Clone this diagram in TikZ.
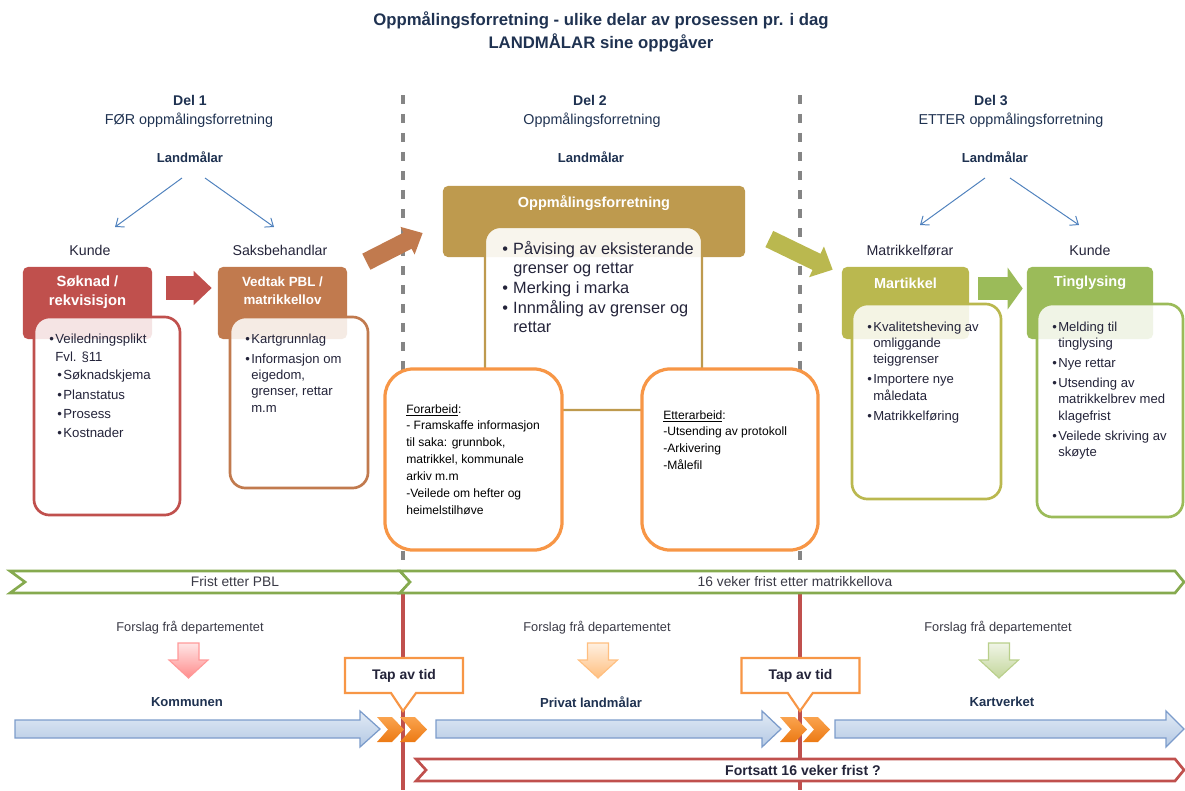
\documentclass[tikz,border=0pt]{standalone}
\usepackage{fontspec}
\setmainfont{Liberation Sans}
\usetikzlibrary{shapes,arrows.meta}

\definecolor{navyInk}{HTML}{1F3251}
\definecolor{bodyInk}{HTML}{24243A}
\definecolor{greyInk}{HTML}{3A3A46}
\definecolor{soknadRed}{HTML}{C0504D}
\definecolor{vedtakBrown}{HTML}{C17A4E}
\definecolor{oppGold}{HTML}{BE9A4E}
\definecolor{martOlive}{HTML}{BAB84F}
\definecolor{tingGreen}{HTML}{9BBB59}
\definecolor{workOrange}{HTML}{F79646}
\definecolor{fristGreen}{HTML}{86AA4F}
\definecolor{lineGrey}{HTML}{858585}
\definecolor{arrowBlue}{HTML}{4F81BD}
\definecolor{bandBlue}{HTML}{7C9CCB}
\definecolor{blueTop}{HTML}{E1EAF5}
\definecolor{blueBottom}{HTML}{B4C9E4}
\definecolor{chevronTop}{HTML}{FAA34E}
\definecolor{chevronBottom}{HTML}{EC7A14}

\newcommand{\listDot}{\makebox[4.3pt][l]{\textbullet}}
\newcommand{\listGap}{\hspace*{4.3pt}}
\newcommand{\bigDot}{\makebox[7.8pt][l]{\textbullet}}
\newcommand{\bigGap}{\hspace*{7.8pt}}

\tikzset{%
  >={Latex[width=2mm,length=2mm]},
  % Specifications for style of nodes:
       headBox/.style = {rectangle, rounded corners=3.5pt, inner sep=0pt,
                         minimum height=1.8cm},
       bodyBox/.style = {rectangle, rounded corners=11pt, fill=white,
                         fill opacity=0.85, line width=1.9pt, inner sep=0pt},
       workBox/.style = {rectangle, rounded corners=20pt, draw=workOrange,
                         fill=white, line width=2.3pt, inner sep=0pt,
                         minimum height=4.525cm},
      headText/.style = {text=white, align=center, inner sep=0pt,
                         font=\bfseries\fontsize{10.3}{13.5}\selectfont},
      listText/.style = {anchor=north west, align=left, inner sep=0pt, text=bodyInk,
                         font=\fontsize{9.3}{11.6}\selectfont},
      noteText/.style = {anchor=north west, align=left, inner sep=0pt, text=black,
                         font=\fontsize{8.6}{12}\selectfont},
       delHead/.style = {text=navyInk, font=\bfseries\fontsize{10}{12}\selectfont},
       delText/.style = {text=navyInk, font=\fontsize{10.2}{12}\selectfont},
      bossText/.style = {text=navyInk, font=\bfseries\fontsize{9.3}{11}\selectfont},
      roleText/.style = {text=bodyInk, font=\fontsize{10.1}{12}\selectfont},
      bandText/.style = {text=greyInk, font=\fontsize{9.8}{12}\selectfont},
     actorText/.style = {text=navyInk, font=\bfseries\fontsize{9.3}{11}\selectfont},
        tapBox/.style = {rectangle callout, draw=workOrange, fill=white, line width=1.5pt,
                         minimum width=2.95cm, minimum height=0.875cm,
                         callout pointer width=0.625cm, text=bodyInk,
                         font=\bfseries\fontsize{9.9}{12}\selectfont},
     thinArrow/.style = {draw=arrowBlue, line width=0.7pt,
                         -{Straight Barb[length=5pt,width=8pt]}},
       sepDash/.style = {draw=lineGrey, line width=2.3pt, dash pattern=on 6.6pt off 6.9pt},
      timeLine/.style = {draw=soknadRed, line width=2.4pt},
     fristBand/.style = {draw=fristGreen, line width=1.9pt, fill=white},
      blueBand/.style = {top color=blueTop, bottom color=blueBottom, draw=bandBlue,
                         line width=0.9pt},
   chevronFill/.style = {top color=chevronTop, bottom color=chevronBottom},
}

\begin{document}
\begin{tikzpicture}[x=0.025cm, y=-0.025cm,
    every node/.style={font=\fontsize{10}{12}\selectfont}]
  \useasboundingbox (0,0) rectangle (1185,790);
  % Title
\node (title) at (601,31.5) [text=navyInk, align=center,
  font=\bfseries\fontsize{11.9}{16.4}\selectfont]
  {Oppmålingsforretning - ulike delar av prosessen pr. i dag\\LANDMÅLAR sine oppgåver};

\draw[sepDash] (403,95) -- (403,568);
\draw[sepDash] (800,95) -- (800,568);

  % Del 1
\node (del1) at (190,100) [delHead] {Del 1};
\node (del1sub) at (189,120) [delText] {FØR oppmålingsforretning};
\node (land1) at (190,157) [bossText] {Landmålar};
\node (kunde1) at (90,250) [roleText] {Kunde};
\node (saks1) at (280,250) [roleText] {Saksbehandlar};

\draw[thinArrow] ([xshift=-0.2cm,yshift=-0.525cm]land1.center) -- ([xshift=0.625cm,yshift=0.575cm]kunde1.center);
\draw[thinArrow] ([xshift=0.375cm,yshift=-0.525cm]land1.center) -- ([xshift=-0.15cm,yshift=0.575cm]saks1.center);

\node (soknad) at (87.5,303) [headBox, fill=soknadRed, minimum width=3.225cm] {};
\node (soknadBody) at (107,416) [bodyBox, draw=soknadRed, minimum width=3.65cm,
  minimum height=4.95cm] {};
\node (soknadTitle) at (87.5,292.5) [headText, font=\bfseries\fontsize{10.5}{13.5}\selectfont]
  {Søknad /\\rekvisisjon};
\node (soknadList) at (49,333.5) [listText, font=\fontsize{9.4}{13}\selectfont]
  {\listDot Veiledningsplikt\\\listGap Fvl. §11\\
   \hspace*{5.7pt}\listDot Søknadskjema\\[0.6pt]
   \hspace*{5.7pt}\listDot Planstatus\\[0.6pt]
   \hspace*{5.7pt}\listDot Prosess\\[0.6pt]
   \hspace*{5.7pt}\listDot Kostnader};

\node (vedtak) at (282.5,303) [headBox, fill=vedtakBrown, minimum width=3.225cm] {};
\node (vedtakBody) at (299,402.5) [bodyBox, draw=vedtakBrown, minimum width=3.45cm,
  minimum height=4.275cm] {};
\node (vedtakTitle) at (282.5,291) [headText, font=\bfseries\fontsize{9.5}{12.8}\selectfont]
  {Vedtak PBL /\\matrikkellov};
\node (vedtakList) at (245,333.5) [listText]
  {\listDot Kartgrunnlag\\[2.6pt]
   \listDot Informasjon om\\\listGap eigedom,\\\listGap grenser, rettar\\\listGap m.m};

\draw[line width=0.6cm, soknadRed, -{Triangle[length=0.45cm,width=0.825cm]}]
  ([xshift=0.35cm,yshift=0.375cm]soknad.east) -- ([xshift=-0.15cm,yshift=0.375cm]vedtak.west);

  % Del 2
\node (del2) at (590,100) [delHead] {Del 2};
\node (del2sub) at (592,120) [delText] {Oppmålingsforretning};
\node (land2) at (591,157) [bossText] {Landmålar};

\node (opp) at (594,221.5) [headBox, fill=oppGold, minimum width=7.55cm,
  minimum height=1.775cm] {};
\node (oppBody) at (593.5,318.5) [bodyBox, draw=oppGold, line width=1.5pt,
  fill opacity=0.9, minimum width=5.425cm, minimum height=4.575cm] {};
\node (oppTitle) at (594,203) [headText] {Oppmålingsforretning};
\node (oppList) at (502,241) [listText, font=\fontsize{11.6}{13.9}\selectfont]
  {\bigDot Påvising av eksisterande\\\bigGap grenser og rettar\\
   \bigDot Merking i marka\\
   \bigDot Innmåling av grenser og\\\bigGap rettar};

\node (forarbeid) at (473.5,459.5) [workBox, minimum width=4.425cm] {};
\node (etterarbeid) at (730,459.5) [workBox, minimum width=4.4cm] {};
\node (forarbeidText) at (406,404) [noteText]
  {\underline{Forarbeid}:\\- Framskaffe informasjon\\til saka: grunnbok,\\
   matrikkel, kommunale\\arkiv m.m\\-Veilede om hefter og\\heimelstilhøve};
\node (etterarbeidText) at (663,410) [noteText]
  {\underline{Etterarbeid}:\\-Utsending av protokoll\\-Arkivering\\-Målefil};

\draw[line width=0.45cm, vedtakBrown, -{Triangle[length=0.425cm,width=0.75cm]}]
  ([xshift=0.475cm,yshift=0.125cm]vedtak.north east) -- ([xshift=-0.5cm,yshift=-0.2875cm]opp.west);

  % Del 3
\node (del3) at (991,100) [delHead] {Del 3};
\node (del3sub) at (1011,120) [delText] {ETTER oppmålingsforretning};
\node (land3) at (995,157) [bossText] {Landmålar};
\node (matr3) at (910,250) [roleText] {Matrikkelførar};
\node (kunde3) at (1090,250) [roleText] {Kunde};

\draw[thinArrow] ([xshift=-0.25cm,yshift=-0.525cm]land3.center) -- ([xshift=0.25cm,yshift=0.625cm]matr3.center);
\draw[thinArrow] ([xshift=0.375cm,yshift=-0.525cm]land3.center) -- ([xshift=-0.275cm,yshift=0.625cm]kunde3.center);

\node (mart) at (905.5,303) [headBox, fill=martOlive, minimum width=3.175cm] {};
\node (martBody) at (926.5,401.5) [bodyBox, draw=martOlive, minimum width=3.725cm,
  minimum height=4.875cm] {};
\node (martTitle) at (905.5,283) [headText] {Martikkel};
\node (martList) at (867,321.5) [listText]
  {\listDot Kvalitetsheving av\\\listGap omliggande\\\listGap teiggrenser\\[2.6pt]
   \listDot Importere nye\\\listGap måledata\\[2.6pt]
   \listDot Matrikkelføring};

\draw[line width=0.45cm, martOlive, -{Triangle[length=0.45cm,width=0.825cm]}]
  ([xshift=0.6cm,yshift=-0.4375cm]opp.east) -- ([xshift=-0.225cm,yshift=-0.075cm]mart.north west);

\node (ting) at (1090,303) [headBox, fill=tingGreen, minimum width=3.15cm] {};
\node (tingBody) at (1110,410.5) [bodyBox, draw=tingGreen, minimum width=3.65cm,
  minimum height=5.325cm] {};
\node (tingTitle) at (1090,283) [headText] {Tinglysing};
\node (tingList) at (1052,321.5) [listText]
  {\listDot Melding til\\\listGap tinglysing\\[2.6pt]
   \listDot Nye rettar\\[2.6pt]
   \listDot Utsending av\\\listGap matrikkelbrev med\\\listGap klagefrist\\[2.6pt]
   \listDot Veilede skriving av\\\listGap skøyte};

\draw[line width=0.575cm, tingGreen, -{Triangle[length=0.375cm,width=1.025cm]}]
  ([xshift=0.225cm,yshift=0.3625cm]mart.east) -- ([xshift=-0.1cm,yshift=0.3625cm]ting.west);

  % Time bands
\draw[timeLine] (403,593) -- (403,790);
\draw[timeLine] (800,593) -- (800,790);

\draw[fristBand] (10,571) -- (400,571) -- (410,582) -- (400,593) -- (10,593) -- (25,582) -- cycle;
\draw[fristBand] (400,571) -- (1175,571) -- (1184,582) -- (1175,593) -- (400,593) -- (410,582) -- cycle;
\node (fristPbl) at (235,582) [bandText] {Frist etter PBL};
\node (fristMatr) at (795,582) [bandText] {16 veker frist etter matrikkellova};

\node (forslag1) at (190,628) [bandText, font=\fontsize{9.1}{11}\selectfont] {Forslag frå departementet};
\node (forslag2) at (597,628) [bandText, font=\fontsize{9.1}{11}\selectfont] {Forslag frå departementet};
\node (forslag3) at (998,628) [bandText, font=\fontsize{9.1}{11}\selectfont] {Forslag frå departementet};

\shadedraw[top color=red!10, bottom color=red!45!white, draw=red!40!white, line width=0.8pt]
  (178,643) -- (199,643) -- (199,660) -- (208,660) -- (188.5,678) -- (169,660) -- (178,660) -- cycle;
\shadedraw[top color=orange!12, bottom color=orange!50!white, draw=orange!50!white, line width=0.8pt]
  (587.5,643) -- (608.5,643) -- (608.5,660) -- (617.5,660) -- (598,678) -- (578.5,660) -- (587.5,660) -- cycle;
\shadedraw[top color=tingGreen!15, bottom color=tingGreen!60!white, draw=tingGreen!70!white, line width=0.8pt]
  (988.5,643) -- (1009.5,643) -- (1009.5,660) -- (1018.5,660) -- (999,678) -- (979.5,660) -- (988.5,660) -- cycle;

\node (kommunen) at (187,702) [actorText] {Kommunen};
\node (privat) at (591,702) [actorText] {Privat landmålar};
\node (kartverket) at (1002,702) [actorText] {Kartverket};

\shadedraw[blueBand] (15,720) -- (360,720) -- (360,711) -- (380,729) -- (360,747) -- (360,738) -- (15,738) -- cycle;
\shadedraw[blueBand] (436,720) -- (762,720) -- (762,711) -- (781,729) -- (762,747) -- (762,738) -- (436,738) -- cycle;
\shadedraw[blueBand] (835,720) -- (1166,720) -- (1166,711) -- (1184,729) -- (1166,747) -- (1166,738) -- (835,738) -- cycle;

\shade[chevronFill] (377,717) -- (392,717) -- (404,729.5) -- (392,742) -- (377,742) -- (388,729.5) -- cycle;
\shade[chevronFill] (400,717) -- (415,717) -- (427,729.5) -- (415,742) -- (400,742) -- (411,729.5) -- cycle;
\shade[chevronFill] (780,717) -- (795,717) -- (807,729.5) -- (795,742) -- (780,742) -- (791,729.5) -- cycle;
\shade[chevronFill] (803,717) -- (818,717) -- (830,729.5) -- (818,742) -- (803,742) -- (814,729.5) -- cycle;

\draw[soknadRed, line width=1.9pt, fill=white] (416,759) -- (1175,759) -- (1184,770) -- (1175,781) -- (416,781) -- (426,770) -- cycle;
\node (fortsatt) at (803,770) [text=bodyInk, font=\bfseries\fontsize{10}{12}\selectfont] {Fortsatt 16 veker frist ?};

\node (tap1) at (404,675.5) [tapBox, callout absolute pointer={(403,711)}] {Tap av tid};
\node (tap2) at (800.5,675.5) [tapBox, callout absolute pointer={(800,711)}] {Tap av tid};
\end{tikzpicture}
\end{document}
